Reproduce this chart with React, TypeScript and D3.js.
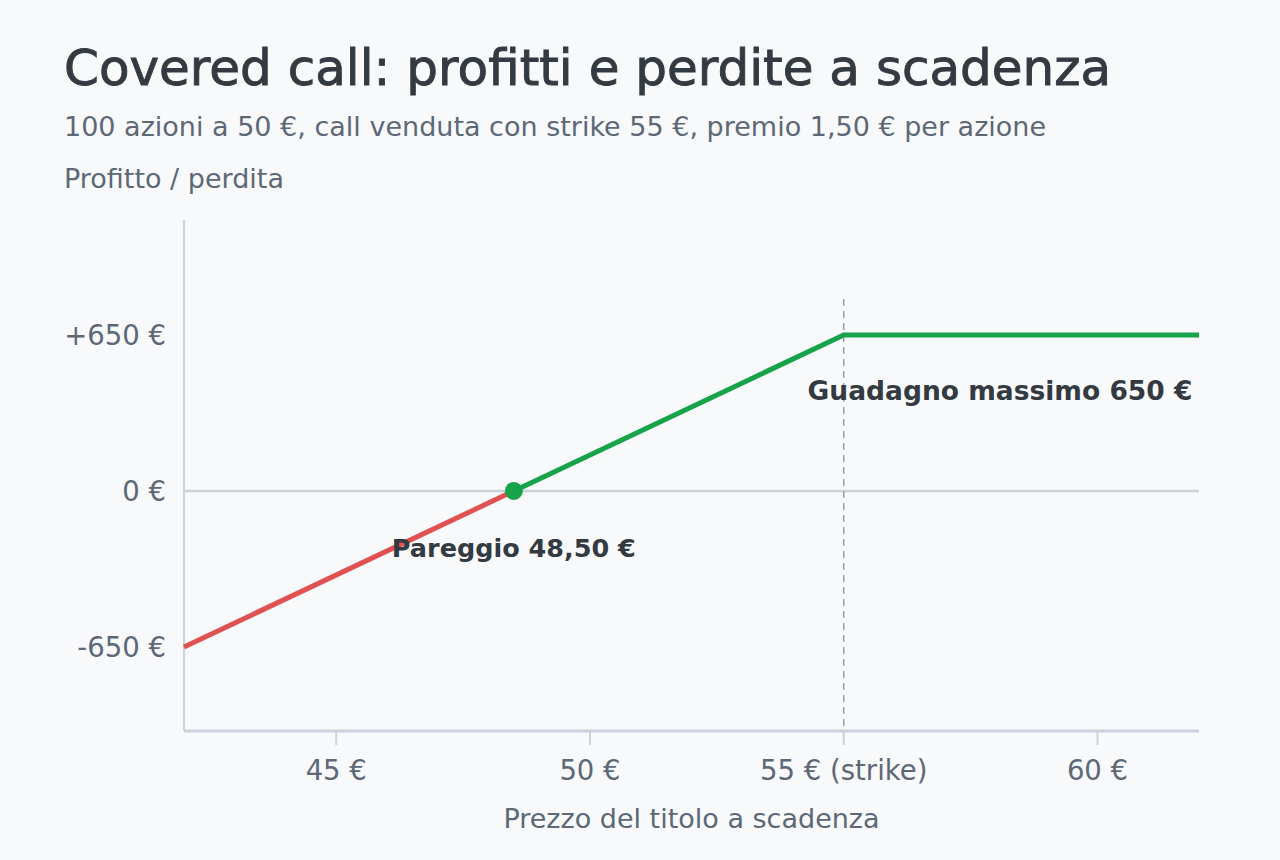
import React, { useEffect, useRef } from 'react';
import * as d3 from 'd3';

// prezzi del titolo (€) e profitto/perdita della strategia (€)
const prices = [42, 48.5, 55, 62];
const pnl = [-650, 0, 650, 650];
const xTicks = [45, 50, 55, 60];
const xTickLabels = ['45 €', '50 €', '55 € (strike)', '60 €'];
const yTicks = [-650, 0, 650];
const yTickLabels = ['-650 €', '0 €', '+650 €'];
const breakEven = 48.5;
const strike = 55;
const maxGain = 650;

const W = 1280;
const H = 860;
const FONT = '"DejaVu Sans", sans-serif';
const TEXT = '#5d6877';
const DARK = '#343a41';
const RED = '#e05252';
const GREEN = '#16a34a';
const GRID = '#cdd1db';

export default function App() {
  const ref = useRef<SVGSVGElement>(null);

  useEffect(() => {
    if (!ref.current) return;
    const svg = d3.select(ref.current);
    svg.selectAll('*').remove();

    const x = d3.scaleLinear().domain([42, 62]).range([184, 1199]);
    const y = d3.scaleLinear().domain([-1000, 1129]).range([731, 220]);

    svg.append('rect').attr('width', W).attr('height', H).attr('fill', '#f7f9fb');

    // titoli
    svg.append('text').attr('x', 64).attr('y', 85)
      .attr('font-size', 50).attr('fill', DARK)
      .attr('stroke', DARK).attr('stroke-width', 0.9)
      .text('Covered call: profitti e perdite a scadenza');
    svg.append('text').attr('x', 64).attr('y', 136)
      .attr('font-size', 27).attr('fill', TEXT)
      .text('100 azioni a 50 €, call venduta con strike 55 €, premio 1,50 € per azione');
    svg.append('text').attr('x', 64).attr('y', 188)
      .attr('font-size', 27).attr('fill', TEXT)
      .text('Profitto / perdita');

    // assi
    svg.append('line')
      .attr('x1', x(42)).attr('x2', x(42)).attr('y1', y(1129)).attr('y2', y(-1000))
      .attr('stroke', GRID).attr('stroke-width', 2);
    svg.append('line')
      .attr('x1', x(42)).attr('x2', x(62)).attr('y1', y(-1000)).attr('y2', y(-1000))
      .attr('stroke', GRID).attr('stroke-width', 3);
    svg.append('line')
      .attr('x1', x(42)).attr('x2', x(62)).attr('y1', y(0)).attr('y2', y(0))
      .attr('stroke', GRID).attr('stroke-width', 2.5);

    // tick asse x
    const xg = svg.append('g');
    xTicks.forEach((t, i) => {
      xg.append('line')
        .attr('x1', x(t)).attr('x2', x(t)).attr('y1', y(-1000)).attr('y2', y(-1000) + 14)
        .attr('stroke', GRID).attr('stroke-width', 2);
      xg.append('text').attr('x', x(t)).attr('y', 780)
        .attr('text-anchor', 'middle').attr('font-size', 27.5).attr('fill', TEXT)
        .text(xTickLabels[i]);
    });
    svg.append('text').attr('x', (x(42) + x(62)) / 2).attr('y', 828)
      .attr('text-anchor', 'middle').attr('font-size', 27).attr('fill', TEXT)
      .text('Prezzo del titolo a scadenza');

    // tick asse y
    yTicks.forEach((t, i) => {
      svg.append('text').attr('x', 166).attr('y', y(t)).attr('dy', '0.36em')
        .attr('text-anchor', 'end').attr('font-size', 27.5).attr('fill', TEXT)
        .text(yTickLabels[i]);
    });

    // linea strike
    svg.append('line')
      .attr('x1', x(strike)).attr('x2', x(strike)).attr('y1', y(800)).attr('y2', y(-1000))
      .attr('stroke', '#9aa0a8').attr('stroke-width', 1.5).attr('stroke-dasharray', '7,5');

    const pts = prices.map((p, i) => [p, pnl[i]] as [number, number]);
    const line = d3.line<[number, number]>().x(d => x(d[0])).y(d => y(d[1]));
    svg.append('path').datum(pts.filter(d => d[0] <= breakEven))
      .attr('d', line).attr('fill', 'none').attr('stroke', RED).attr('stroke-width', 5);
    svg.append('path').datum(pts.filter(d => d[0] >= breakEven))
      .attr('d', line).attr('fill', 'none').attr('stroke', GREEN).attr('stroke-width', 5)
      .attr('stroke-linejoin', 'miter');

    svg.append('circle').attr('cx', x(breakEven)).attr('cy', y(0)).attr('r', 9).attr('fill', GREEN);

    // annotazioni
    svg.append('text').attr('x', x(breakEven)).attr('y', 557)
      .attr('text-anchor', 'middle').attr('font-size', 25.5).attr('font-weight', 700).attr('fill', DARK)
      .text('Pareggio 48,50 €');
    svg.append('text').attr('x', 1000).attr('y', y(maxGain) + 65)
      .attr('text-anchor', 'middle').attr('font-size', 26.5).attr('font-weight', 700).attr('fill', DARK)
      .text('Guadagno massimo 650 €');
  }, []);

  return (
    <div style={{ position: 'fixed', left: 0, top: 0, width: W, height: H }}>
      <svg ref={ref} width={W} height={H} fontFamily={FONT} style={{ display: 'block' }} />
    </div>
  );
}
